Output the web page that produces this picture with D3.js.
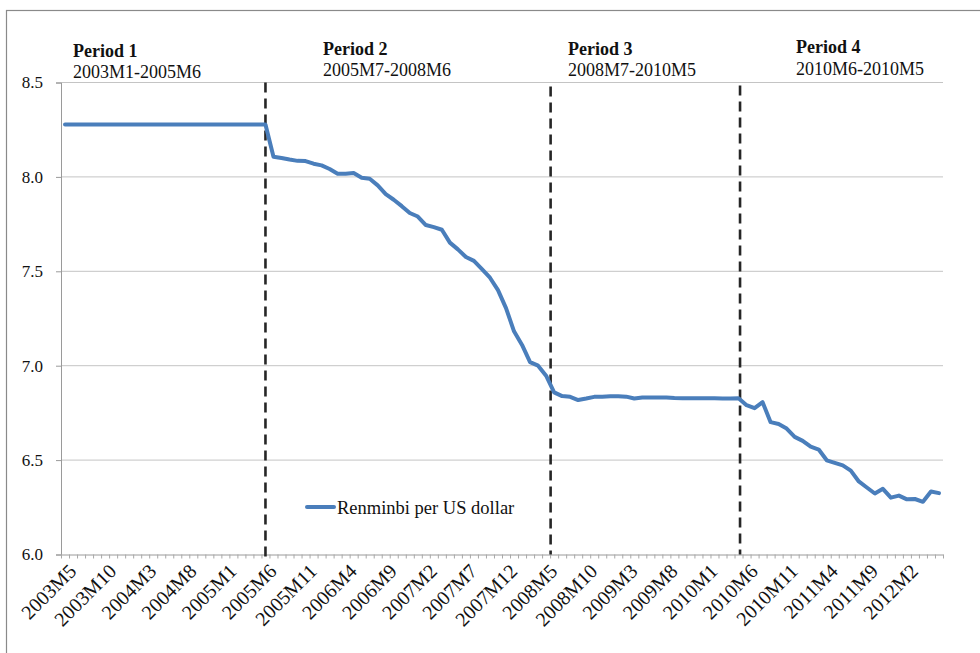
<!DOCTYPE html>
<html>
<head>
<meta charset="utf-8">
<script src="https://cdn.jsdelivr.net/npm/d3@7"></script>
<style>
  html, body { margin: 0; padding: 0; background: #fff; }
  svg { display: block; font-family: "Liberation Serif", "Times New Roman", serif; }
</style>
</head>
<body>
<svg id="chart" width="980" height="653"></svg>
<script>
// ---- Data ----
const startYear = 2003, startMonth = 5, monthCount = 110; // 2003M5 .. 2012M6
const rate = [
  // 2003M5 - 2003M12
  8.277, 8.277, 8.277, 8.277, 8.277, 8.277, 8.277, 8.277,
  // 2004
  8.277, 8.277, 8.277, 8.277, 8.277, 8.277, 8.277, 8.277, 8.277, 8.277, 8.277, 8.277,
  // 2005M1 - 2005M12
  8.277, 8.277, 8.277, 8.277, 8.277, 8.277, 8.107, 8.100, 8.092, 8.085, 8.084, 8.070,
  // 2006
  8.061, 8.042, 8.017, 8.017, 8.021, 7.996, 7.990, 7.955, 7.909, 7.879, 7.845, 7.809,
  // 2007
  7.790, 7.745, 7.734, 7.720, 7.652, 7.616, 7.576, 7.555, 7.511, 7.466, 7.400, 7.305,
  // 2008
  7.182, 7.110, 7.019, 7.000, 6.947, 6.859, 6.839, 6.835, 6.818, 6.826, 6.835, 6.835,
  // 2009
  6.838, 6.838, 6.836, 6.826, 6.831, 6.832, 6.832, 6.832, 6.829, 6.828, 6.827, 6.828,
  // 2010
  6.827, 6.827, 6.826, 6.826, 6.828, 6.791, 6.775, 6.807, 6.701, 6.691, 6.667, 6.623,
  // 2011
  6.602, 6.571, 6.556, 6.499, 6.485, 6.472, 6.444, 6.387, 6.355, 6.323, 6.348, 6.301,
  // 2012M1 - 2012M6
  6.312, 6.292, 6.294, 6.279, 6.334, 6.325
];
const tickLabels = ["2003M5","2003M10","2004M3","2004M8","2005M1","2005M6","2005M11",
  "2006M4","2006M9","2007M2","2007M7","2007M12","2008M5","2008M10","2009M3","2009M8",
  "2010M1","2010M6","2010M11","2011M4","2011M9","2012M2"];
const yTicks = [6.0, 6.5, 7.0, 7.5, 8.0, 8.5];
const periodTitles = ["Period 1", "Period 2", "Period 3", "Period 4"];
const periodRanges = ["2003M1-2005M6", "2005M7-2008M6", "2008M7-2010M5", "2010M6-2010M5"];
const dividerMonths = ["2005M6", "2008M5", "2010M5"];
const seriesName = "Renminbi per US dollar";

// month labels
const months = [];
for (let i = 0; i < monthCount; i++) {
  const m0 = startMonth - 1 + i;
  months.push((startYear + Math.floor(m0 / 12)) + "M" + (m0 % 12 + 1));
}
const data = months.map((m, i) => ({ month: m, value: rate[i] }));

// ---- Layout ----
const svg = d3.select("#chart");
const plotL = 61, plotR = 943, plotT = 82.5, plotB = 554.5;
const blue = "#4a7ebb";

// outer frame (extends beyond the viewport on right/bottom)
svg.append("rect").attr("x", 6.5).attr("y", 10.5).attr("width", 1000).attr("height", 700)
  .attr("fill", "none").attr("stroke", "#8a8a8a").attr("stroke-width", 1.2);

const x = d3.scaleBand().domain(months).range([plotL, plotR]).paddingInner(0).paddingOuter(0);
const xIdx = d3.scaleLinear().domain([0, monthCount]).range([plotL, plotR]);
const y = d3.scaleLinear().domain([6, 8.5]).range([plotB, plotT]);
const cx = m => x(m) + x.bandwidth() / 2;

// gridlines
svg.append("g").selectAll("line").data(yTicks.filter(v => v > 6)).join("line")
  .attr("x1", plotL).attr("x2", plotR)
  .attr("y1", d => y(d)).attr("y2", d => y(d))
  .attr("stroke", "#c4c4c4").attr("stroke-width", 1);

// y axis
const yAxis = svg.append("g").attr("transform", `translate(${plotL},0)`)
  .call(d3.axisLeft(y).tickValues(yTicks).tickFormat(d3.format(".1f")).tickSize(5).tickPadding(13));
yAxis.select(".domain").attr("stroke", "#9a9a9a");
yAxis.selectAll(".tick line").attr("stroke", "#9a9a9a");
yAxis.selectAll(".tick text").attr("font-size", 17).attr("font-family", "Liberation Serif").attr("fill", "#111");

// x axis: minor tick marks at every category boundary
const xTickAxis = svg.append("g").attr("transform", `translate(0,${plotB})`)
  .call(d3.axisBottom(xIdx).tickValues(d3.range(0, monthCount + 1)).tickFormat("").tickSize(4).tickSizeOuter(0));
xTickAxis.select(".domain").attr("stroke", "#9a9a9a");
xTickAxis.selectAll(".tick line").attr("stroke", "#a8a8a8");

// x labels
svg.append("g").selectAll("text").data(tickLabels).join("text")
  .attr("transform", d => `translate(${cx(d) + 7.5},${plotB + 13}) rotate(-45)`)
  .attr("text-anchor", "end").attr("dy", "0.35em")
  .attr("font-size", 20).attr("fill", "#111")
  .text(d => d);

// divider dashed lines
const dividerOffsets = [0, 0.5 * x.bandwidth() + 0.5, 1.5];
svg.append("g").selectAll("line").data(dividerMonths).join("line")
  .attr("x1", (d, i) => cx(d) + dividerOffsets[i]).attr("x2", (d, i) => cx(d) + dividerOffsets[i])
  .attr("y1", (d, i) => y(8.5) + [0, 4, 3][i]).attr("y2", (d, i) => y(6) + [3, 0, 0][i])
  .attr("stroke", "#262626").attr("stroke-width", 2.6).attr("stroke-dasharray", "10,6");

// series line
svg.append("path").datum(data)
  .attr("fill", "none").attr("stroke", blue).attr("stroke-width", 4)
  .attr("stroke-linejoin", "round").attr("stroke-linecap", "round")
  .attr("d", d3.line().x(d => cx(d.month)).y(d => y(d.value)));

// period annotations
const periodX = [73, 323, 568, 796];
const periodY = [56.5, 54.5, 54.5, 53];
const pg = svg.append("g");
periodTitles.forEach((t, i) => {
  pg.append("text").attr("x", periodX[i]).attr("y", periodY[i])
    .attr("font-size", 18).attr("font-weight", "bold").attr("fill", "#111").text(t);
  pg.append("text").attr("x", periodX[i]).attr("y", periodY[i] + 21.5)
    .attr("font-size", 18).attr("fill", "#111").text(periodRanges[i]);
});

// legend
const lg = svg.append("g").attr("transform", "translate(307,507)");
lg.append("line").attr("x1", 0).attr("x2", 27).attr("y1", 0).attr("y2", 0)
  .attr("stroke", blue).attr("stroke-width", 4).attr("stroke-linecap", "round");
lg.append("text").attr("x", 30).attr("y", 6.5).attr("font-size", 18.5).attr("fill", "#111").text(seriesName);
</script>
</body>
</html>
